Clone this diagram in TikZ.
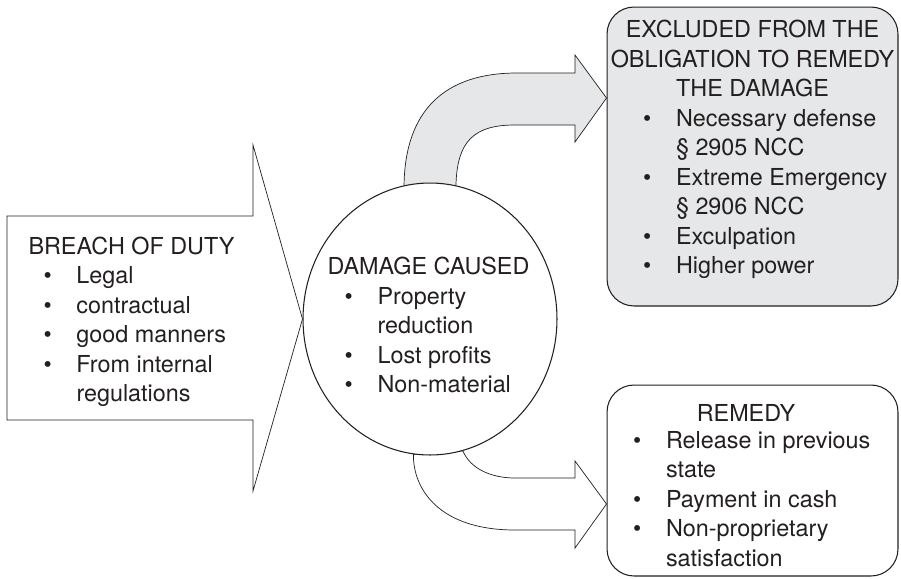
\documentclass[tikz,border=0pt]{standalone}
\usepackage{fontspec}
\setmainfont{TeX Gyre Heros}
\usetikzlibrary{positioning,calc,shapes.geometric}
\pgfdeclarelayer{background}
\pgfsetlayers{background,main}
\definecolor{ink}{HTML}{231F20}
\definecolor{boxgray}{HTML}{E6E7E8}
\newcommand{\itm}[1]{\makebox[0.66cm][l]{\textbullet}#1}
\newcommand{\cnt}[1]{\hspace*{0.66cm}#1}

\begin{document}
\begin{tikzpicture}[x=0.02cm,y=-0.02cm,line width=0.6pt,
    txt/.style={text=ink,inner sep=0pt,font=\fontsize{13.3}{16.8}\selectfont},
    box/.style={draw=ink,rounded corners=0.54cm,minimum width=5.82cm,inner sep=0pt},
    blk/.style={draw=ink,line join=miter}]
   \useasboundingbox (0,0) rectangle (901,578);
   \node[ellipse,draw=ink,fill=white,minimum width=5.08cm,minimum height=5.44cm,inner sep=0pt] (damage) at (430,319) {};
   \node[box,fill=boxgray,minimum height=5.98cm] (excl) at (752.5,156.5) {};
   \node[box,fill=white,minimum height=3.82cm] (remedy) at (752.5,480.5) {};
   \node[txt,align=left,anchor=west] (breach) at (28,322) {BREACH OF DUTY\\
      \hspace*{0.3cm}\itm{Legal}\\ \hspace*{0.3cm}\itm{contractual}\\
      \hspace*{0.3cm}\itm{good manners}\\ \hspace*{0.3cm}\itm{From internal}\\
      \hspace*{0.96cm}regulations};
   \node[txt,align=left,anchor=west] (dmgtxt) at ([xshift=-2.06cm,yshift=-0.12cm]damage.center) {DAMAGE CAUSED\\
      \hspace*{0.34cm}\itm{Property}\\ \hspace*{1.0cm}reduction\\
      \hspace*{0.34cm}\itm{Lost profits}\\ \hspace*{0.34cm}\itm{Non-material}};
   \node[txt,align=center,below=0.26cm of excl.north] (exclhead) {EXCLUDED FROM THE\\OBLIGATION TO REMEDY\\THE DAMAGE};
   \node[txt,align=left,anchor=north west] (excllist) at ($(exclhead.south -| excl.west)+(36,11)$) {\itm{Necessary defense}\\
      \cnt{\S\ 2905 NCC}\\ \itm{Extreme Emergency}\\ \cnt{\S\ 2906 NCC}\\
      \itm{Exculpation}\\ \itm{Higher power}};
   \node[txt,below=0.38cm of remedy.north,xshift=-0.13cm] (remhead) {REMEDY};
   \node[txt,align=left,anchor=north west] (remlist) at ($(remhead.south -| remedy.west)+(26,9)$) {\itm{Release in previous}\\
      \cnt{state}\\ \itm{Payment in cash}\\ \itm{Non-proprietary}\\ \cnt{satisfaction}};
   \begin{pgfonlayer}{background}
    \draw[blk,fill=white] (7,216) -- (253,216) -- (253,145) -- (damage.west) -- (253,491) -- (253,420) -- (7,420) -- cycle;
    \draw[blk,fill=boxgray] (damage.101) .. controls (405,110) and (445,73) .. (517,73) -- (575,73) -- (575,55)
      -- (excl.west |- 0,98) -- (575,142) -- (575,125) -- (515,125) .. controls (475,125) and (457,140) .. (damage.79) -- cycle;
    \draw[blk,fill=white] (damage.263) .. controls (413,490) and (440,530) .. (515,530) -- (575,530) -- (575,548)
      -- (remedy.west |- 0,504) -- (575,461) -- (575,478) -- (515,478) .. controls (490,478) and (470,468) .. (damage.284) -- cycle;
   \end{pgfonlayer}
\end{tikzpicture}
\end{document}
